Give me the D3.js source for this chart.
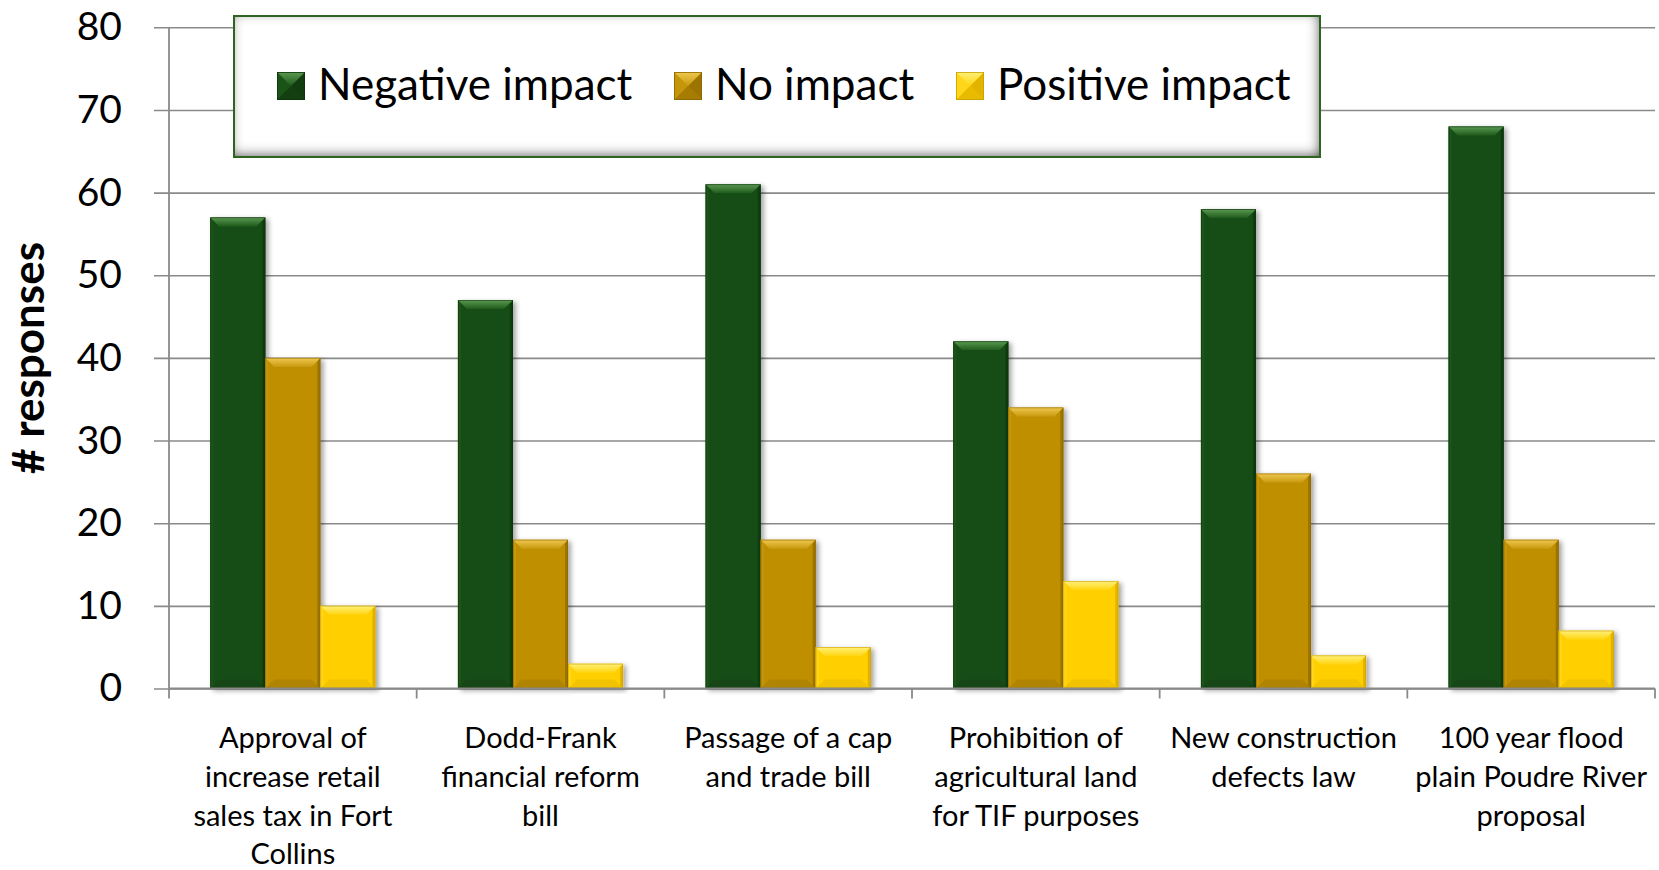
<!DOCTYPE html>
<html>
<head>
<meta charset="utf-8">
<script src="https://cdn.jsdelivr.net/npm/d3@7"></script>
<style>
  html, body { margin: 0; padding: 0; background: #ffffff; }
  svg { display: block; }
  text { font-family: Lato, "Open Sans", sans-serif; fill: #000; }
</style>
</head>
<body>
<svg id="chart" width="1659" height="870"></svg>
<script>
// Survey: expected impact of policy items (# responses)
const categories = [
  "Approval of increase retail sales tax in Fort Collins",
  "Dodd-Frank financial reform bill",
  "Passage of a cap and trade bill",
  "Prohibition of agricultural land for TIF purposes",
  "New construction defects law",
  "100 year flood plain Poudre River proposal"
];
const categoryLines = [
  ["Approval of", "increase retail", "sales tax in Fort", "Collins"],
  ["Dodd-Frank", "financial reform", "bill"],
  ["Passage of a cap", "and trade bill"],
  ["Prohibition of", "agricultural land", "for TIF purposes"],
  ["New construction", "defects law"],
  ["100 year flood", "plain Poudre River", "proposal"]
];
const seriesNames = ["Negative impact", "No impact", "Positive impact"];
const negativeImpact = [57, 47, 61, 42, 58, 68];
const noImpact = [40, 18, 18, 34, 26, 18];
const positiveImpact = [10, 3, 5, 13, 4, 7];
const yTicks = [0, 10, 20, 30, 40, 50, 60, 70, 80];
const yTitle = "# responses";

// Bevel shading per series: body, top bevel (light -> body), left, right, bottom, outline
const palette = {
  "Negative impact": { body: "#174d15", topA: "#5b9a52", topB: "#1f5a1c", left: "#1b5419", right: "#113d10", bottom: "#133f11", edge: "#0e330c" },
  "No impact":       { body: "#bf8f05", topA: "#f0c850", topB: "#c99a10", left: "#c6960a", right: "#9c7402", bottom: "#a67c03", edge: "#8a6600" },
  "Positive impact": { body: "#ffcf00", topA: "#fff07a", topB: "#ffd510", left: "#ffd61a", right: "#e2b300", bottom: "#e9bb00", edge: "#c9a000" }
};

const seriesValues = [negativeImpact, noImpact, positiveImpact];
const rows = categories.map((c, i) => ({
  category: c,
  lines: categoryLines[i],
  values: seriesNames.map((s, k) => ({ series: s, value: seriesValues[k][i] }))
}));

const svg = d3.select("#chart");
const defs = svg.append("defs");

// soft shadow behind bars
const shadow = defs.append("filter").attr("id", "barShadow")
  .attr("x", "-20%").attr("y", "-10%").attr("width", "150%").attr("height", "130%");
shadow.append("feDropShadow").attr("dx", 3).attr("dy", 2).attr("stdDeviation", 2.5)
  .attr("flood-color", "#000").attr("flood-opacity", 0.35);

// inner shadow for the legend frame
const inner = defs.append("filter").attr("id", "innerShadow")
  .attr("x", "-5%").attr("y", "-20%").attr("width", "110%").attr("height", "140%");
inner.append("feFlood").attr("flood-color", "#2a2a2a").attr("flood-opacity", 1).attr("result", "c");
inner.append("feComposite").attr("in", "c").attr("in2", "SourceAlpha").attr("operator", "out").attr("result", "o");
inner.append("feGaussianBlur").attr("in", "o").attr("stdDeviation", 6).attr("result", "b");
inner.append("feOffset").attr("in", "b").attr("dx", -2).attr("dy", -3).attr("result", "ob");
inner.append("feComposite").attr("in", "ob").attr("in2", "SourceAlpha").attr("operator", "in").attr("result", "s");
const merge = inner.append("feMerge");
merge.append("feMergeNode").attr("in", "SourceGraphic");
merge.append("feMergeNode").attr("in", "s");

seriesNames.forEach((s, k) => {
  const g = defs.append("linearGradient").attr("id", "topGrad" + k)
    .attr("x1", 0).attr("y1", 0).attr("x2", 0).attr("y2", 1);
  g.append("stop").attr("offset", "0%").attr("stop-color", palette[s].topA);
  g.append("stop").attr("offset", "100%").attr("stop-color", palette[s].topB);
});

// plot frame
const plotLeft = 169, plotRight = 1655;
const x0 = d3.scaleBand().domain(categories).range([plotLeft, plotRight]).paddingInner(0).paddingOuter(0);
const x1 = d3.scaleBand().domain(seriesNames).range([0, x0.bandwidth()]).paddingInner(0).paddingOuter(0.75);
const y = d3.scaleLinear().domain([0, 80]).range([688.5, 27.3]);

const gridColor = "#8a8a8a";

// y axis with gridlines that also stick out to the left as ticks
const yAxis = d3.axisLeft(y).tickValues(yTicks).tickFormat(d3.format("d"))
  .tickSizeInner(-(plotRight - 154)).tickSizeOuter(0).tickPadding(32);
const gy = svg.append("g").attr("transform", "translate(154,0)").call(yAxis);
gy.select(".domain").remove();
gy.selectAll(".tick line").attr("stroke", gridColor).attr("stroke-width", 1.6);
gy.selectAll(".tick text")
  .style("font-family", "Lato, sans-serif").style("font-size", "39px").attr("fill", "#000");

// vertical axis line
svg.append("line").attr("x1", plotLeft).attr("x2", plotLeft)
  .attr("y1", y(80)).attr("y2", y(0)).attr("stroke", gridColor).attr("stroke-width", 1.8);

// bars
const bevel = (x, yt, w, h, b) => ({
  top:    [[x, yt], [x + w, yt], [x + w - b, yt + b], [x + b, yt + b]],
  bottom: [[x, yt + h], [x + w, yt + h], [x + w - b, yt + h - b], [x + b, yt + h - b]],
  left:   [[x, yt], [x + b, yt + b], [x + b, yt + h - b], [x, yt + h]],
  right:  [[x + w, yt], [x + w - b, yt + b], [x + w - b, yt + h - b], [x + w, yt + h]]
});
const pts = p => p.map(q => q.join(",")).join(" ");

const groups = svg.append("g").selectAll("g").data(rows).join("g")
  .attr("transform", d => `translate(${x0(d.category)},0)`);

const bars = groups.selectAll("g").data(d => d.values).join("g")
  .attr("filter", "url(#barShadow)");

bars.each(function(d) {
  const g = d3.select(this);
  const k = seriesNames.indexOf(d.series);
  const c = palette[d.series];
  const bx = x1(d.series), w = x1.bandwidth();
  const yt = y(d.value), h = y(0) - y(d.value);
  const b = Math.min(9, h / 2, w / 2);
  const sb = Math.min(3, h / 2);
  const bv = bevel(bx, yt, w, h, b);
  g.append("rect").attr("x", bx).attr("y", yt).attr("width", w).attr("height", h).attr("fill", c.body);
  // narrow side bevels
  const sides = bevel(bx, yt, w, h, sb);
  g.append("polygon").attr("points", pts(sides.left)).attr("fill", c.left);
  g.append("polygon").attr("points", pts(sides.right)).attr("fill", c.right);
  g.append("polygon").attr("points", pts(bv.bottom)).attr("fill", c.bottom).attr("opacity", 0.6);
  g.append("polygon").attr("points", pts(bv.top)).attr("fill", `url(#topGrad${k})`);
  g.append("rect").attr("x", bx + 0.4).attr("y", yt + 0.4).attr("width", w - 0.8).attr("height", h - 0.8)
    .attr("fill", "none").attr("stroke", c.edge).attr("stroke-width", 0.8).attr("opacity", 0.7);
});

// category axis: baseline, boundary ticks and wrapped labels
svg.append("line").attr("x1", plotLeft).attr("x2", plotRight)
  .attr("y1", y(0)).attr("y2", y(0)).attr("stroke", gridColor).attr("stroke-width", 1.8);
const bounds = categories.map(c => x0(c)).concat([x0(categories[categories.length - 1]) + x0.bandwidth()]);
svg.append("g").selectAll("line").data(bounds).join("line")
  .attr("x1", d => d).attr("x2", d => d)
  .attr("y1", y(0)).attr("y2", y(0) + 10)
  .attr("stroke", gridColor).attr("stroke-width", 1.8);

const labels = svg.append("g").selectAll("text").data(rows).join("text")
  .attr("text-anchor", "middle")
  .style("font-size", "29px")
  .attr("transform", d => `translate(${x0(d.category) + x0.bandwidth() / 2},748)`);
labels.selectAll("tspan").data(d => d.lines).join("tspan")
  .attr("x", 0).attr("y", (d, i) => i * 38.8).text(d => d);

// y title
svg.append("text")
  .attr("transform", "translate(44,358) rotate(-90)")
  .attr("text-anchor", "middle")
  .style("font-size", "44px").style("font-weight", 700)
  .text(yTitle);

// legend
const legend = svg.append("g");
legend.append("rect").attr("x", 234).attr("y", 16).attr("width", 1086).attr("height", 141)
  .attr("fill", "#ffffff").attr("filter", "url(#innerShadow)");
legend.append("rect").attr("x", 234).attr("y", 16).attr("width", 1086).attr("height", 141)
  .attr("fill", "none").attr("stroke", "#2d6420").attr("stroke-width", 2);

const legendX = [277, 674, 956];
const sw = 28;
seriesNames.forEach((s, k) => {
  const c = palette[s];
  const lx = legendX[k], ly = 72;
  const gl = legend.append("g");
  const bv = bevel(lx, ly, sw, sw, sw / 2);
  gl.append("rect").attr("x", lx).attr("y", ly).attr("width", sw).attr("height", sw).attr("fill", c.body);
  gl.append("polygon").attr("points", pts(bv.left)).attr("fill", c.left);
  gl.append("polygon").attr("points", pts(bv.right)).attr("fill", c.right);
  gl.append("polygon").attr("points", pts(bv.bottom)).attr("fill", c.bottom);
  gl.append("polygon").attr("points", pts(bv.top)).attr("fill", `url(#topGrad${k})`);
  gl.append("rect").attr("x", lx + 0.4).attr("y", ly + 0.4).attr("width", sw - 0.8).attr("height", sw - 0.8)
    .attr("fill", "none").attr("stroke", c.edge).attr("stroke-width", 0.8);
  legend.append("text").attr("x", lx + sw + 13).attr("y", 100)
    .style("font-size", "44px").text(s);
});
</script>
</body>
</html>
